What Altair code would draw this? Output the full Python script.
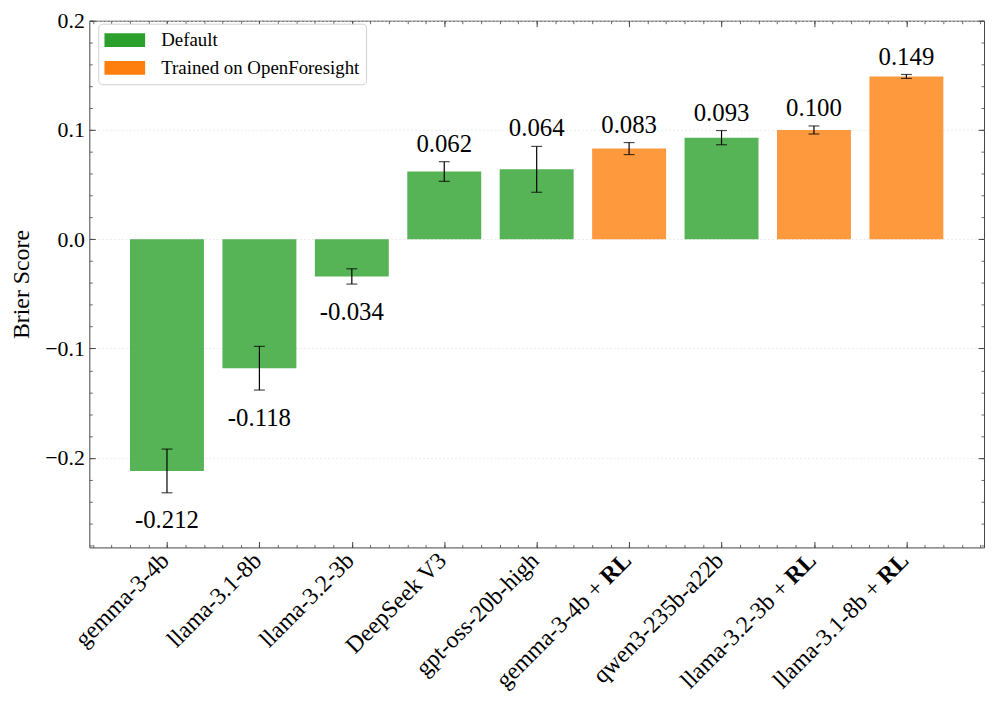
import altair as alt
import pandas as pd

# ---- data ----
models = ["gemma-3-4b", "llama-3.1-8b", "llama-3.2-3b", "DeepSeek V3", "gpt-oss-20b-high",
          "gemma-3-4b", "qwen3-235b-a22b", "llama-3.2-3b", "llama-3.1-8b"]
suffixes = ["", "", "", "", "", "RL", "", "RL", "RL"]
scores = [-0.212, -0.118, -0.034, 0.062, 0.064, 0.083, 0.093, 0.100, 0.149]
errors = [0.020, 0.020, 0.007, 0.009, 0.021, 0.0055, 0.0065, 0.0037, 0.0018]
groups = ["Default", "Default", "Default", "Default", "Default",
          "Trained on OpenForesight", "Default", "Trained on OpenForesight", "Trained on OpenForesight"]
group_names = ["Default", "Trained on OpenForesight"]
group_colors = ["#2ca02c", "#ff7f0e"]

y_major = [-0.2, -0.1, 0.0, 0.1, 0.2]
y_minor = [round(-0.28 + 0.02 * i, 2) for i in range(25)]
x_major = list(range(9))
x_minor = [round(-0.8 + 0.2 * i, 1) for i in range(49)]

df = pd.DataFrame({
    "idx": list(range(len(models))),
    "model": models,
    "suffix": suffixes,
    "score": scores,
    "err": errors,
    "group": groups,
})
df["x0"] = df["idx"] - 0.4
df["x1"] = df["idx"] + 0.4
df["lo"] = df["score"] - df["err"]
df["hi"] = df["score"] + df["err"]
df["vlabel"] = [f"{s:.3f}" for s in scores]
df["main_label"] = [m + (" +" if s else "") for m, s in zip(models, suffixes)]

FONT = "Liberation Serif"
PW, PH = 902, 531
AX = "#444444"

xs = alt.Scale(domain=[-0.84, 8.84], nice=False, zero=False)
ys = alt.Scale(domain=[-0.282, 0.2], nice=False, zero=False)


def tick_axis(orient, values, size, width):
    return alt.Axis(orient=orient, values=values, offset=-size, tickSize=size, ticks=True,
                    tickColor=AX, tickWidth=width, domain=False, labels=False, grid=False,
                    title=None)


main_y = alt.Axis(orient="left", values=y_major, ticks=False, tickSize=0, domain=False,
                  labels=True, labelFont=FONT, labelFontSize=22, labelColor="black",
                  labelPadding=5, labelExpr="replace(format(datum.value, '.1f'), '-', '\u2212')",
                  grid=True, gridColor="#e4e4e4", gridDash=[2, 2], gridWidth=0.8,
                  title="Brier Score", titleFont=FONT, titleFontSize=24, titleFontWeight="normal",
                  titleColor="black", titleX=-68, titleY=PH / 2, titleAngle=270,
                  titleAlign="center", titleBaseline="middle")

base = alt.Chart(df)

bars = base.mark_bar(opacity=0.8).encode(
    x=alt.X("x0:Q", scale=xs, axis=tick_axis("bottom", x_major, 6, 1)),
    x2="x1",
    y=alt.Y("score:Q", scale=ys, axis=main_y),
    y2=alt.datum(0),
    color=alt.Color("group:N", scale=alt.Scale(domain=group_names, range=group_colors),
                    legend=alt.Legend(orient="none", legendX=9, legendY=3, title=None,
                                      labelFont=FONT, labelFontSize=19, labelColor="black",
                                      labelLimit=0,
                                      symbolType="M-1,-0.68H3V0.68H-1Z", symbolSize=420.25,
                                      symbolOpacity=1, symbolStrokeWidth=0,
                                      fillColor="white", strokeColor="#d0d0d0", cornerRadius=4,
                                      padding=6, rowPadding=7, labelOffset=36.5)),
)

err_rule = base.mark_rule(color="black", strokeWidth=1.2).encode(
    x=alt.X("idx:Q", scale=xs, axis=tick_axis("bottom", x_minor, 3, 0.8)),
    y=alt.Y("lo:Q", scale=ys, axis=tick_axis("left", y_major, 6, 1)),
    y2="hi",
)

cap_lo = base.mark_tick(orient="horizontal", size=11, thickness=1.2, color="black").encode(
    x=alt.X("idx:Q", scale=xs, axis=tick_axis("top", x_major, 6, 1)),
    y=alt.Y("lo:Q", scale=ys, axis=tick_axis("left", y_minor, 3, 0.8)),
)

cap_hi = base.mark_tick(orient="horizontal", size=11, thickness=1.2, color="black").encode(
    x=alt.X("idx:Q", scale=xs, axis=tick_axis("top", x_minor, 3, 0.8)),
    y=alt.Y("hi:Q", scale=ys, axis=tick_axis("right", y_major, 6, 1)),
)

pos_labels = base.transform_filter("datum.score > 0").mark_text(
    baseline="alphabetic", dy=-10, font=FONT, fontSize=25, color="black").encode(
    x=alt.X("idx:Q", scale=xs, axis=None),
    y=alt.Y("hi:Q", scale=ys, axis=tick_axis("right", y_minor, 3, 0.8)),
    text="vlabel:N",
)

neg_labels = base.transform_filter("datum.score < 0").mark_text(
    baseline="alphabetic", dy=36, font=FONT, fontSize=25, color="black").encode(
    x=alt.X("idx:Q", scale=xs, axis=None),
    y=alt.Y("lo:Q", scale=ys, axis=None),
    text="vlabel:N",
)

CAT_DX, CAT_DY, CAT_FS = -8, 6, 24
RL_GAP = 39

cat_plain = base.transform_filter("datum.suffix == ''").mark_text(
    angle=315, align="right", baseline="middle", dx=CAT_DX, dy=CAT_DY,
    font=FONT, fontSize=CAT_FS, color="black").encode(
    x=alt.X("idx:Q", scale=xs, axis=None),
    y=alt.value(PH),
    text="main_label:N",
)

cat_rl_main = base.transform_filter("datum.suffix != ''").mark_text(
    angle=315, align="right", baseline="middle", dx=CAT_DX - RL_GAP, dy=CAT_DY,
    font=FONT, fontSize=CAT_FS, color="black").encode(
    x=alt.X("idx:Q", scale=xs, axis=None),
    y=alt.value(PH),
    text="main_label:N",
)

cat_rl_bold = base.transform_filter("datum.suffix != ''").mark_text(
    angle=315, align="right", baseline="middle", dx=CAT_DX, dy=CAT_DY,
    font=FONT, fontSize=CAT_FS, fontWeight="bold", color="black").encode(
    x=alt.X("idx:Q", scale=xs, axis=None),
    y=alt.value(PH),
    text="suffix:N",
)

chart = alt.layer(
    bars, err_rule, cap_lo, cap_hi, pos_labels, neg_labels, cat_plain, cat_rl_main, cat_rl_bold
).resolve_axis(
    x="independent", y="independent"
).properties(
    width=PW, height=PH,
    padding={"left": 82, "top": 10, "right": 4, "bottom": 150},
    autosize="none",
).configure_view(
    stroke=AX, strokeWidth=1
)

chart.save("out.html", embed_options={"renderer": "svg", "actions": False})
